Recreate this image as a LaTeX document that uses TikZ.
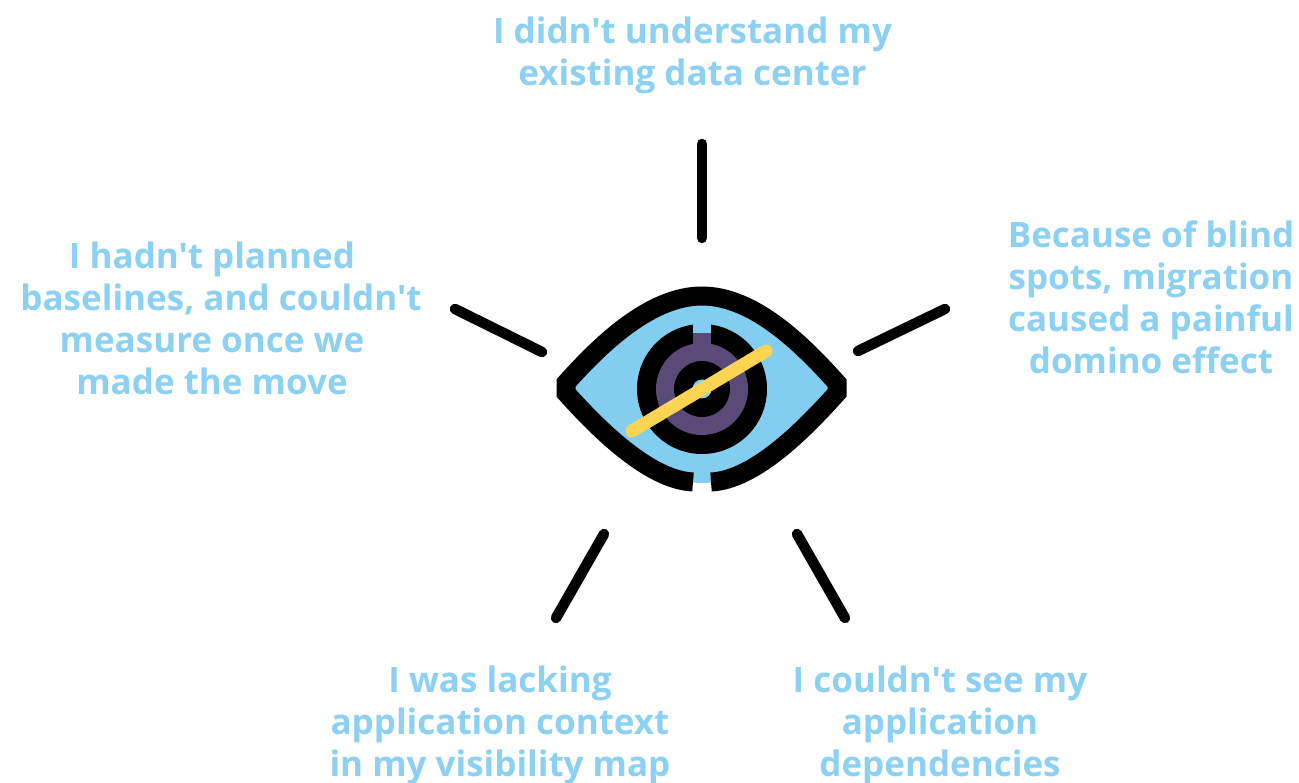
\documentclass[tikz,border=0pt]{standalone}
\usepackage{fontspec}
\setmainfont{Open Sans}[Ligatures=TeXOff]
\definecolor{skyb}{HTML}{82CDF0}
\definecolor{txtb}{HTML}{8CD0F2}
\definecolor{irisp}{HTML}{5A4A78}
\definecolor{slashy}{HTML}{FBD552}
\begin{document}
\begin{tikzpicture}[x=1pt,y=-1pt,
  label/.style={text=txtb,font=\fontsize{35}{42}\selectfont\bfseries,align=center,inner sep=0pt},
  spoke/.style={line width=10.5pt,line cap=round,black}]
\useasboundingbox (0,0) rectangle (1299,783);
\fill[white] (0,0) rectangle (1299,783);
% eye
\fill[skyb] (567,383) .. controls (600,345) and (650,296) .. (702,296)
  .. controls (754,296) and (803,345) .. (836,383) -- (836,393)
  .. controls (803,431) and (754,483) .. (702,483)
  .. controls (650,483) and (600,431) .. (567,393) -- cycle;
\draw[black,line width=19pt,line join=miter,miter limit=2]
  (693,482) .. controls (650,480) and (600,431) .. (566,393)
  -- (566,383) .. controls (600,345) and (650,296) .. (702,296)
  .. controls (754,296) and (803,345) .. (837,383)
  -- (837,393) .. controls (803,431) and (754,480) .. (711,482);
% iris
\fill[black] (702,389) circle[radius=65];
\fill[skyb] (693,320) rectangle (711,345);
\fill[irisp] (702,389) circle[radius=46];
\fill[irisp] (693,333) rectangle (711,350);
\fill[black] (702,389) circle[radius=28];
\fill[skyb] (702,389) circle[radius=9.5];
% slash
\draw[slashy,line width=13pt,line cap=round] (632,431) -- (766,351);
% spokes
\coordinate (t1) at (702,144); \coordinate (t2) at (702,238);
\coordinate (l1) at (455,309); \coordinate (l2) at (542,352);
\coordinate (r1) at (858,351); \coordinate (r2) at (945,309);
\coordinate (a1) at (604,534); \coordinate (a2) at (556,618);
\coordinate (b1) at (797,534); \coordinate (b2) at (845,618);
\draw[spoke] (t1) -- (t2);
\draw[spoke] (l1) -- (l2);
\draw[spoke] (r1) -- (r2);
\draw[spoke] (a1) -- (a2);
\draw[spoke] (b1) -- (b2);
% labels
\node[label] (top) at (692.5,55) {I didn't understand my\\existing data center};
\node[label] (left) at (212,318) {I hadn't planned\\\hspace*{18pt}baselines, and couldn't\\measure once we\\made the move};
\node[label] (right) at (1151,297) {Because of blind\\spots, migration\\caused a painful\\domino effect};
\node[label] (bl) at (500,725) {I was lacking\\application context\\in my visibility map};
\node[label] (br) at (940,725) {I couldn't see my\\application\\dependencies};
\end{tikzpicture}
\end{document}
